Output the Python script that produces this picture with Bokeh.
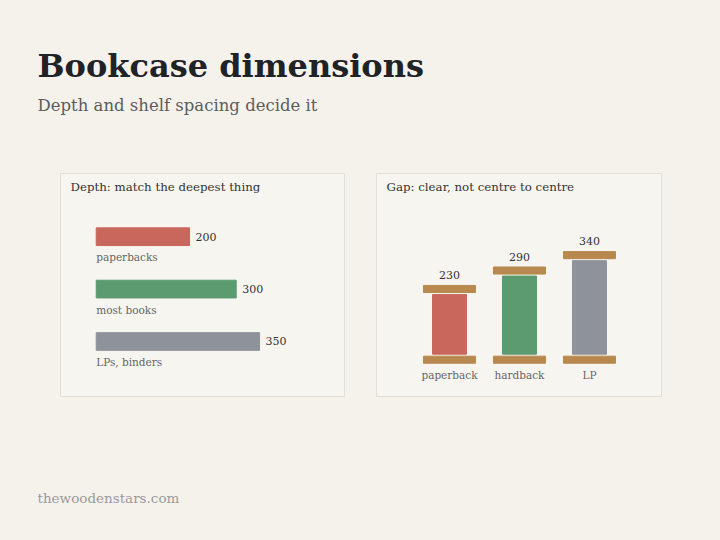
from bokeh.core.properties import value
from bokeh.embed import file_html
from bokeh.layouts import column, row
from bokeh.models import ColumnDataSource, Range1d
from bokeh.plotting import figure
from bokeh.resources import INLINE

# depth panel
depth_items = ['paperbacks', 'most books', 'LPs, binders']
depth_mm = [200, 300, 350]

# gap panel
gap_items = ['paperback', 'hardback', 'LP']
gap_mm = [230, 290, 340]

colors = ['#c8675c', '#5b9b6f', '#8e939b']
SHELF = '#b8894e'
BG = '#f5f2ec'
PANEL = '#f7f5f0'
EDGE = '#e3dfd7'
FONT = 'DejaVu Serif'


def blank(width, height, x_range, y_range, **kw):
  p = figure(width=width, height=height, x_range=x_range, y_range=y_range,
             x_axis_type=None, y_axis_type=None, toolbar_location=None,
             output_backend='svg', border_fill_color=BG, background_fill_color=BG,
             outline_line_color=None, min_border=0, **kw)
  return p


def panel(x_range, y_range, left, frame_w, right):
  p = blank(left + frame_w + right, 224, x_range, y_range,
            min_border_left=left, min_border_right=right)
  p.background_fill_color = PANEL
  p.outline_line_color = EDGE
  p.outline_line_width = 1
  return p


def panel_title(p, text):
  p.text(x=[p.x_range.start], y=[p.y_range.end], text=[text], x_offset=10, y_offset=13.7,
         text_font=value(FONT), text_font_size='11.8px', text_color='#333333',
         text_baseline='middle')


header = blank(720, 173, Range1d(0, 720), Range1d(173, 0))
header.text(x=[37], y=[65.8], text=['Bookcase dimensions'], text_font=value(FONT),
            text_font_size='32px', text_font_style='bold', text_color='#1f2226',
            text_baseline='middle')
header.text(x=[37], y=[105], text=['Depth and shelf spacing decide it'], text_font=value(FONT),
            text_font_size='16.5px', text_color='#5c5c5c', text_baseline='middle')

# left: horizontal bars, 0 mm sits 35.7px inside the panel
depth_src = ColumnDataSource(dict(y=list(range(len(depth_items))), v=depth_mm,
                                  item=depth_items, color=colors,
                                  label=[str(d) for d in depth_mm]))
left = panel(Range1d(-76.5, 532), Range1d(3.069, -1.206), 60, 284, 16)
panel_title(left, 'Depth: match the deepest thing')
left.hbar(y='y', left=0, right='v', height=0.338, color='color', source=depth_src)
left.text(x='v', y='y', text='label', x_offset=6, text_font=value(FONT), text_font_size='11px',
          text_color='#333333', text_baseline='middle', source=depth_src)
left.text(x=0, y='y', text='item', y_offset=20.5, text_font=value(FONT), text_font_size='10.5px',
          text_color='#666666', text_baseline='middle', source=depth_src)

# right: shelves drawn at 0 and at the gap, books between them
gap_src = ColumnDataSource(dict(x=list(range(len(gap_items))), v=gap_mm, item=gap_items,
                                color=colors, top=[g - 18 for g in gap_mm],
                                label=[str(g) for g in gap_mm]))
right = panel(Range1d(-1.043, 3.029), Range1d(-122.9, 605.5), 16, 285, 59)
panel_title(right, 'Gap: clear, not centre to centre')
right.vbar(x='x', bottom=18, top='top', width=0.486, color='color', source=gap_src)
right.rect(x='x', y=0, width=0.743, height=23, color=SHELF, source=gap_src)
right.rect(x='x', y='v', width=0.743, height=23, color=SHELF, source=gap_src)
right.text(x='x', y='v', text='label', y_offset=-14, text_align='center', text_font=value(FONT),
           text_font_size='11px', text_color='#333333', text_baseline='middle', source=gap_src)
right.text(x='x', y=0, text='item', y_offset=15.5, text_align='center', text_font=value(FONT),
           text_font_size='10.5px', text_color='#666666', text_baseline='middle', source=gap_src)

footer = blank(720, 143, Range1d(0, 720), Range1d(143, 0))
footer.text(x=[37], y=[100.5], text=['thewoodenstars.com'], text_font=value(FONT),
            text_font_size='13.5px', text_color='#9a9a9a', text_baseline='middle')

p = column(header, row(left, right), footer)

html = file_html(p, INLINE)
html = html.replace('</head>', '<style>body{background:%s}</style></head>' % BG, 1)
open('out.html', 'w').write(html)
